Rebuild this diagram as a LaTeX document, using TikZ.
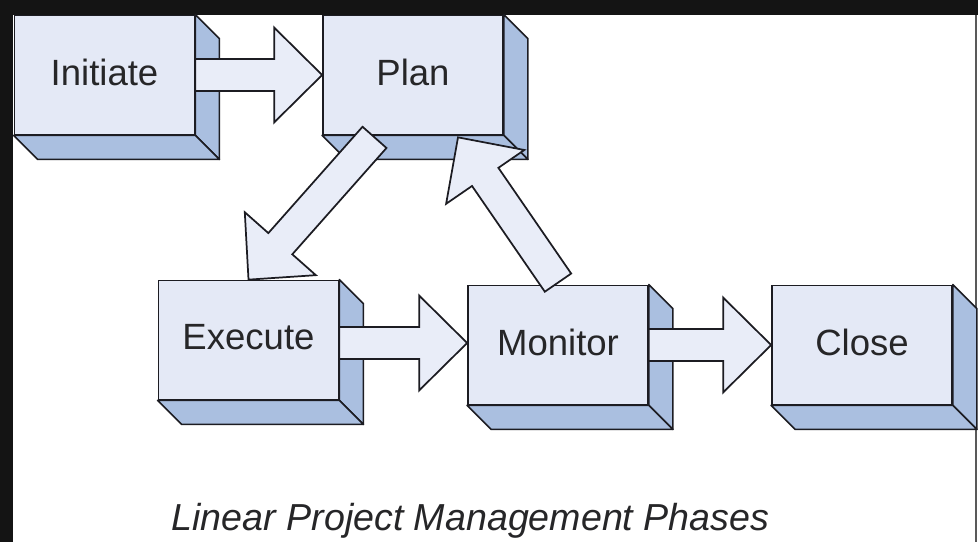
\documentclass[tikz,border=0pt]{standalone}
\usepackage{fontspec}
\setmainfont{Liberation Sans}
\usetikzlibrary{calc}

\definecolor{facefront}{RGB}{228,233,246}
\definecolor{faceside}{RGB}{170,191,224}
\definecolor{arrowfill}{RGB}{233,237,248}
\definecolor{edgeline}{RGB}{28,28,34}
\definecolor{labeltext}{RGB}{38,38,40}
\definecolor{framedark}{RGB}{20,20,20}

% extruded lower-right faces of a phase box
\newcommand\phasedepth[1]{%
  \draw[depthface] (#1.north east) -- ++(24,24) -- ($(#1.south east)+(24,24)$) -- (#1.south east) -- cycle;
  \draw[depthface] (#1.south west) -- ($(#1.south west)+(24,24)$) -- ($(#1.south east)+(24,24)$) -- (#1.south east) -- cycle;
}

% wide block arrow from #1 (tail centre) to #2 (tip)
\newcommand\blockarrow[2]{%
  \coordinate (bahead) at ($(#2)!36pt!(#1)$);
  \draw[blockarrowstyle]
    ($(#1)!12pt!90:(#2)$) -- ($(bahead)!12pt!90:(#2)$) -- ($(bahead)!35.6pt!90:(#2)$)
    -- (#2)
    -- ($(bahead)!35.6pt!-90:(#2)$) -- ($(bahead)!12pt!-90:(#2)$) -- ($(#1)!12pt!-90:(#2)$) -- cycle;
}

\begin{document}
\begin{tikzpicture}[x=0.75pt,y=-0.75pt,
  phase/.style={draw=edgeline, line width=1.3pt, fill=facefront,
    minimum width=135pt, minimum height=89.25pt, inner sep=0pt, text depth=4.5pt,
    text=labeltext, font=\fontsize{27.4}{30}\selectfont},
  depthface/.style={draw=edgeline, line width=1.3pt, fill=faceside, line join=round},
  blockarrowstyle/.style={draw=edgeline, line width=1.3pt, fill=arrowfill, line join=miter}]

  \useasboundingbox (0,0) rectangle (978,542);
  \fill[white] (0,0) rectangle (978,542);

  % frame
  \fill[framedark] (0,0) rectangle (978,15);
  \fill[framedark] (0,0) rectangle (13,542);
  \draw[black!65, line width=1.5pt] (976,15) -- (976,542);

  % phase boxes
  \node[phase] (init)  at (104.5,75) {Initiate};
  \node[phase] (plan)  at (413,75)   {Plan};
  \node[phase] (exec)  at (248.5,340) {Execute};
  \node[phase] (mon)   at (558,345)  {Monitor};
  \node[phase] (close) at (862,345)  {Close};

  \phasedepth{init}
  \phasedepth{plan}
  \phasedepth{exec}
  \phasedepth{mon}
  \phasedepth{close}

  % transitions
  \blockarrow{init.east}{plan.west}

  \coordinate (em-s) at ($(exec.east)+(0,3)$);
  \coordinate (em-e) at (em-s -| mon.west);
  \blockarrow{em-s}{em-e}

  \blockarrow{mon.east}{close.west}

  \coordinate (pe-s) at ($(plan.south)+(-38.5,2)$);
  \blockarrow{pe-s}{exec.north}

  \coordinate (mp-s) at ($(mon.north)+(0,-2)$);
  \coordinate (mp-e) at ($(plan.south)+(45,2)$);
  \blockarrow{mp-s}{mp-e}

  % caption
  \node[font=\itshape\fontsize{28.2}{32}\selectfont, text=labeltext, anchor=base]
    (caption) at (470.5,530) {Linear Project Management Phases};
\end{tikzpicture}
\end{document}
